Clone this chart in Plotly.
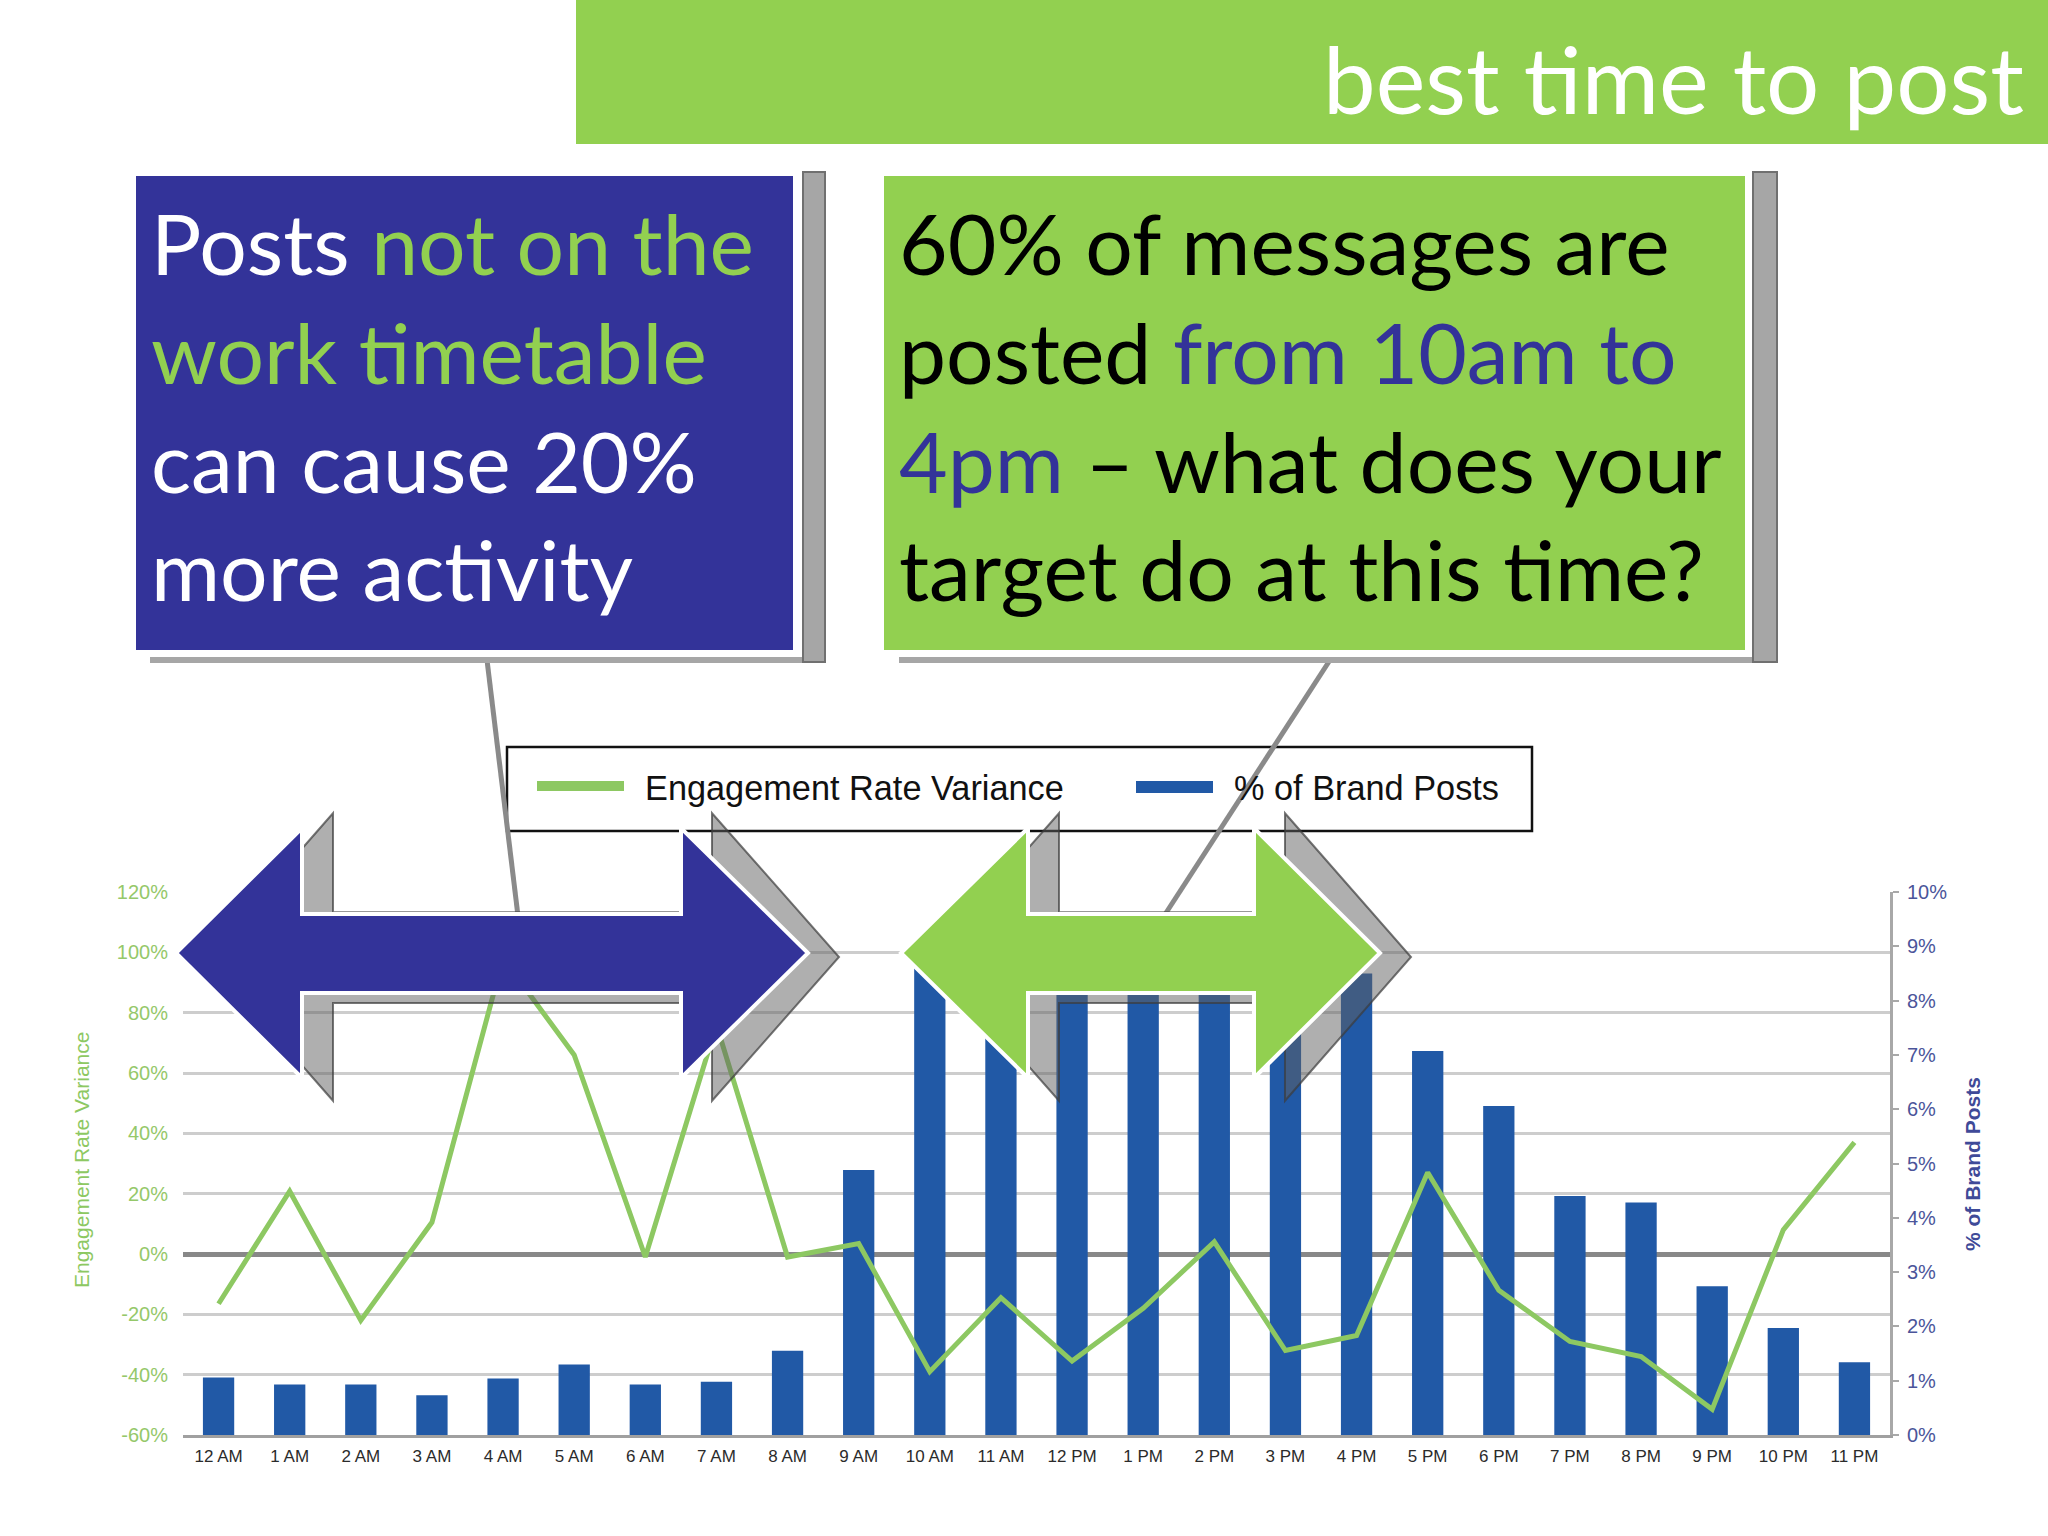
import plotly.graph_objects as go

# ---------------- data ----------------
hours = ["12 AM", "1 AM", "2 AM", "3 AM", "4 AM", "5 AM", "6 AM", "7 AM", "8 AM", "9 AM",
         "10 AM", "11 AM", "12 PM", "1 PM", "2 PM", "3 PM", "4 PM", "5 PM", "6 PM", "7 PM",
         "8 PM", "9 PM", "10 PM", "11 PM"]
engagement_variance = [-16.5, 20.8, -22, 10.5, 98, 66, -1, 76, -1, 3.5, -39, -14.5,
                       -35.5, -18, 4, -32, -27, 27, -12, -29, -34, -51.5, 8, 37]
brand_posts = [1.06, 0.93, 0.93, 0.73, 1.04, 1.3, 0.93, 0.98, 1.55, 4.88, 8.6, 8.1,
               8.3, 8.2, 8.2, 8.0, 8.5, 7.07, 6.06, 4.4, 4.28, 2.74, 1.97, 1.34]
left_ticks = [-60, -40, -20, 0, 20, 40, 60, 80, 100, 120]
left_labels = ["-60%", "-40%", "-20%", "0%", "20%", "40%", "60%", "80%", "100%", "120%"]
right_ticks = [0, 1, 2, 3, 4, 5, 6, 7, 8, 9, 10]
right_labels = ["0%", "1%", "2%", "3%", "4%", "5%", "6%", "7%", "8%", "9%", "10%"]

W, H = 2048, 1536
BLUE = "#333399"
GREEN = "#92D050"
BAR = "#2159A6"
LINE = "#8DC862"


def px(x):
    return x / W


def py(y):
    return 1 - y / H


def path(points):
    return "M " + " L ".join(f"{px(x):.5f},{py(y):.5f}" for x, y in points) + " Z"


def arrow_pts(xl, xbl, xbr, xr, yc=953, head=125, shaft_top=914, shaft_bot=993):
    return [(xl, yc), (xbl, yc - head), (xbl, shaft_top), (xbr, shaft_top), (xbr, yc - head),
            (xr, yc), (xbr, yc + head), (xbr, shaft_bot), (xbl, shaft_bot), (xbl, yc + head)]


def shadow_pts(pts, dx=31, yc=953, sc=1.15, dy=4):
    return [(x + dx, yc + (y - yc) * sc + dy) for x, y in pts]


fig = go.Figure()
# bars on the base axis (right side), line on the overlaying axis so it is drawn above the bars
fig.add_trace(go.Bar(x=hours, y=brand_posts, yaxis="y", marker=dict(color=BAR, line=dict(width=0)),
                     name="% of Brand Posts", showlegend=False))
fig.add_trace(go.Scatter(x=hours, y=engagement_variance, yaxis="y2", mode="lines",
                         line=dict(color=LINE, width=5),
                         name="Engagement Rate Variance", showlegend=False))

shapes = []
# title bar
shapes.append(dict(type="rect", xref="paper", yref="paper", x0=px(576), x1=px(2048), y0=py(144), y1=py(0),
                   fillcolor=GREEN, line=dict(width=0), layer="above"))
# legend box
shapes.append(dict(type="rect", xref="paper", yref="paper", x0=px(507), x1=px(1532), y0=py(831), y1=py(747),
                   fillcolor="white", line=dict(color="#111111", width=2.5), layer="above"))
shapes.append(dict(type="rect", xref="paper", yref="paper", x0=px(537), x1=px(624), y0=py(791), y1=py(781),
                   fillcolor=LINE, line=dict(width=0), layer="above"))
shapes.append(dict(type="rect", xref="paper", yref="paper", x0=px(1136), x1=px(1213), y0=py(793), y1=py(781),
                   fillcolor=BAR, line=dict(width=0), layer="above"))
# connectors
shapes.append(dict(type="line", xref="paper", yref="paper", x0=px(487), y0=py(660), x1=px(518), y1=py(916),
                   line=dict(color="#8A8A8A", width=5), layer="above"))
shapes.append(dict(type="line", xref="paper", yref="paper", x0=px(1330), y0=py(660), x1=px(1164), y1=py(916),
                   line=dict(color="#8A8A8A", width=5), layer="above"))
# box shadows
for bx0, bx1, sx0, sx1 in [(150, 825, 803, 825), (899, 1777, 1753, 1777)]:
    shapes.append(dict(type="rect", xref="paper", yref="paper", x0=px(bx0), x1=px(bx1), y0=py(663), y1=py(657),
                       fillcolor="#A6A6A6", line=dict(width=0), layer="above"))
    shapes.append(dict(type="rect", xref="paper", yref="paper", x0=px(sx0), x1=px(sx1), y0=py(662), y1=py(172),
                       fillcolor="#A6A6A6", line=dict(color="#707070", width=2), layer="above"))
# boxes
shapes.append(dict(type="rect", xref="paper", yref="paper", x0=px(135), x1=px(794), y0=py(651), y1=py(175),
                   fillcolor=BLUE, line=dict(color="white", width=2), layer="above"))
shapes.append(dict(type="rect", xref="paper", yref="paper", x0=px(883), x1=px(1746), y0=py(651), y1=py(175),
                   fillcolor=GREEN, line=dict(color="white", width=2), layer="above"))
# arrows with shadows
blue_arrow = arrow_pts(176, 302, 681, 808)
green_arrow = arrow_pts(901, 1028, 1254, 1380)
for pts, col in [(blue_arrow, BLUE), (green_arrow, GREEN)]:
    shapes.append(dict(type="path", xref="paper", yref="paper", path=path(shadow_pts(pts)),
                       fillcolor="rgba(95,95,95,0.5)", line=dict(color="rgba(60,60,60,0.7)", width=2),
                       layer="above"))
    shapes.append(dict(type="path", xref="paper", yref="paper", path=path(pts),
                       fillcolor=col, line=dict(color="white", width=4), layer="above"))

ann = []
BOXFONT = "Lato"
# title
ann.append(dict(text="best time to post", x=px(2026), y=py(77), xref="paper", yref="paper",
                xanchor="right", yanchor="middle", showarrow=False,
                font=dict(family=BOXFONT, size=94, color="white")))
gl = f"<span style='color:{GREEN}'>"
blue_lines = ["Posts " + gl + "not on the</span>", gl + "work timetable</span>",
              "can cause 20%", "more activity"]
bl = "<span style='color:#333399'>"
green_lines = ["60% of messages are", "posted " + bl + "from 10am to</span>",
               bl + "4pm</span> \u2013 what does your", "target do at this time?"]
baselines = [273, 382, 492, 600]
for i, b in enumerate(baselines):
    ann.append(dict(text=blue_lines[i], x=px(149), y=py(b - 31), xref="paper", yref="paper",
                    xanchor="left", yanchor="middle", showarrow=False,
                    font=dict(family=BOXFONT, size=84, color="white")))
    ann.append(dict(text=green_lines[i], x=px(897), y=py(b - 31), xref="paper", yref="paper",
                    xanchor="left", yanchor="middle", showarrow=False,
                    font=dict(family=BOXFONT, size=84, color="black")))
# legend texts
LEGFONT = "Liberation Sans Narrow, Liberation Sans, Arial"
ann.append(dict(text="Engagement Rate Variance", x=px(643), y=py(788), xref="paper", yref="paper",
                xanchor="left", yanchor="middle", showarrow=False,
                font=dict(family=LEGFONT, size=34.3, color="#111111")))
ann.append(dict(text="% of Brand Posts", x=px(1232), y=py(788), xref="paper", yref="paper",
                xanchor="left", yanchor="middle", showarrow=False,
                font=dict(family=LEGFONT, size=34.3, color="#111111")))
# axis titles
ann.append(dict(text="Engagement Rate Variance", x=px(81), y=py(1160), xref="paper", yref="paper",
                xanchor="center", yanchor="middle", textangle=-90, showarrow=False,
                font=dict(family=LEGFONT, size=21, color="#8DC862")))
ann.append(dict(text="<b>% of Brand Posts</b>", x=px(1972), y=py(1164), xref="paper", yref="paper",
                xanchor="center", yanchor="middle", textangle=-90, showarrow=False,
                font=dict(family=LEGFONT, size=21, color="#3F4A98")))

fig.update_layout(
    template="none",
    width=W, height=H,
    margin=dict(l=0, r=0, t=0, b=0),
    paper_bgcolor="white", plot_bgcolor="white",
    showlegend=False,
    bargap=0.56,
    xaxis=dict(domain=[px(183), px(1890)], type="category", range=[-0.5, 23.5],
               showgrid=False, zeroline=False, showline=True, linecolor="#A0A0A0", linewidth=3,
               ticks="", ticklabelstandoff=4,
               tickfont=dict(family=LEGFONT, size=17, color="#2B2B2B"), automargin=False),
    yaxis=dict(domain=[py(1435), py(892)], side="right", range=[0, 10],
               tickmode="array", tickvals=right_ticks, ticktext=right_labels,
               showgrid=False, zeroline=False, showline=True, linecolor="#A8A8A8", linewidth=3,
               ticks="outside", ticklen=6, tickcolor="#A8A8A8", tickwidth=2, ticklabelstandoff=4,
               tickfont=dict(family=LEGFONT, size=20, color="#4B559A"), automargin=False),
    yaxis2=dict(overlaying="y", side="left", range=[-60, 120],
                tickmode="array", tickvals=left_ticks, ticktext=left_labels,
                showgrid=True, gridcolor="#CDCDCD", gridwidth=3,
                zeroline=True, zerolinecolor="#888888", zerolinewidth=5,
                showline=False, ticks="", ticklabelstandoff=14,
                tickfont=dict(family=LEGFONT, size=20, color="#95C86A"), automargin=False),
    shapes=shapes,
    annotations=ann,
)

fig.write_html("out.html", config={"displayModeBar": False},
               post_script="document.body.style.margin='0';document.body.style.overflow='hidden';")
